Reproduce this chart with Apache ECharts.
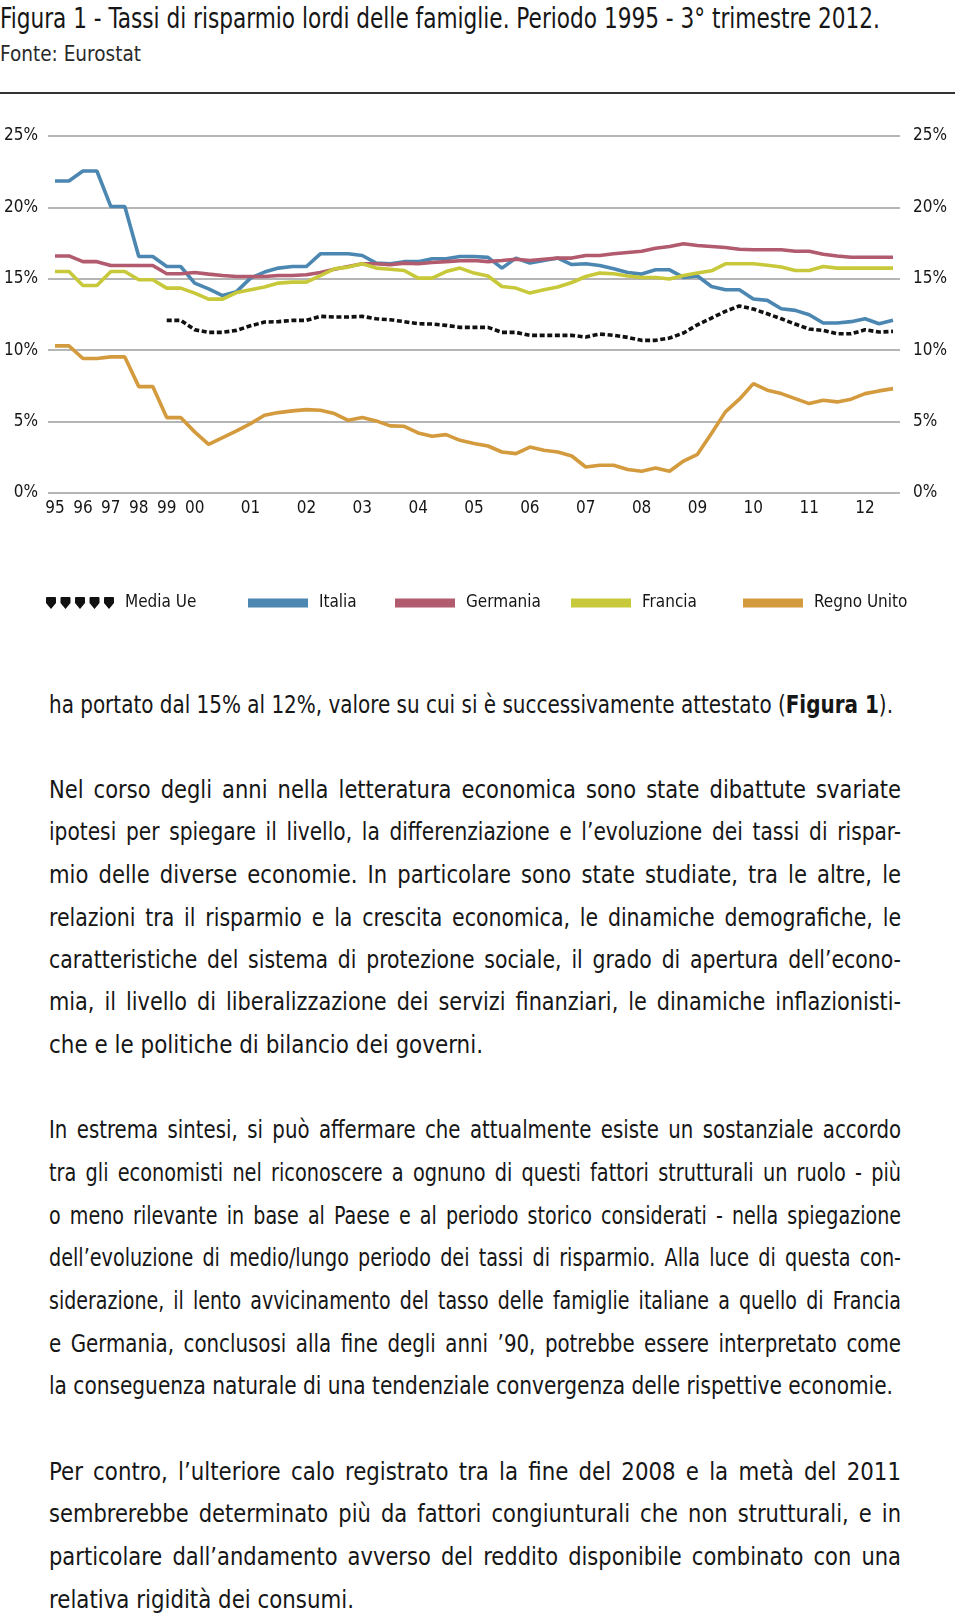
<!DOCTYPE html>
<html>
<head>
<meta charset="utf-8">
<script src="https://cdn.jsdelivr.net/npm/echarts@6/dist/echarts.min.js"></script>
<style>
  html, body { margin:0; padding:0; background:#fff; }
  body { width:960px; height:1619px; position:relative; overflow:hidden;
         font-family:"Liberation Sans Narrow","DejaVu Sans Condensed","Liberation Sans",sans-serif; color:#161616; }
  .ln { position:absolute; left:49px; white-space:nowrap; font-size:24px; line-height:30px; transform-origin:0 50%; }
  #title { position:absolute; left:0; top:3px; font-size:28px; line-height:32px; white-space:nowrap; transform-origin:0 50%; }
  #fonte { position:absolute; left:0; top:41px; font-size:22px; line-height:26px; white-space:nowrap; color:#2a2a2a; transform-origin:0 50%; }
  #rule { position:absolute; left:0; top:92px; width:955px; height:2px; background:#333; }
  #chart { position:absolute; left:0; top:0; width:960px; height:650px; }
</style>
</head>
<body>
<div id="title">Figura 1 - Tassi di risparmio lordi delle famiglie. Periodo 1995 - 3° trimestre 2012.</div>
<div id="fonte">Fonte: Eurostat</div>
<div id="rule"></div>
<div id="chart"></div>
<div id="text"></div>
<script>
// ---- Data ----
const categorie = [
  '95-1','95-2','96-1','96-2','97-1','97-2','98-1','98-2','99-1','99-2',
  '00-1','00-2','00-3','00-4','01-1','01-2','01-3','01-4','02-1','02-2','02-3','02-4',
  '03-1','03-2','03-3','03-4','04-1','04-2','04-3','04-4','05-1','05-2','05-3','05-4',
  '06-1','06-2','06-3','06-4','07-1','07-2','07-3','07-4','08-1','08-2','08-3','08-4',
  '09-1','09-2','09-3','09-4','10-1','10-2','10-3','10-4','11-1','11-2','11-3','11-4',
  '12-1','12-2','12-3'
];
const etichetteAnni = ['95','96','97','98','99','00','01','02','03','04','05','06','07','08','09','10','11','12'];
const etichetteY = ['0%','5%','10%','15%','20%','25%'];

const mediaUe = [null,null,null,null,null,null,null,null,12.09,12.09,
  11.43,11.25,11.25,11.39,11.71,11.97,12.0,12.09,12.09,12.37,
  12.32,12.32,12.37,12.2,12.13,12.0,11.85,11.83,11.74,11.6,
  11.6,11.6,11.25,11.25,11.04,11.04,11.04,11.04,10.92,11.13,
  11.04,10.9,10.69,10.69,10.85,11.2,11.78,12.25,12.72,13.1,
  12.88,12.55,12.2,11.83,11.48,11.39,11.15,11.15,11.43,11.27,11.32];
const italia = [21.85,21.85,22.55,22.55,20.06,20.06,16.56,16.56,15.86,15.86,
  14.7,14.3,13.83,14.1,15.05,15.47,15.75,15.86,15.86,16.75,
  16.75,16.75,16.63,16.1,16.05,16.2,16.2,16.4,16.4,16.56,
  16.56,16.5,15.75,16.45,16.1,16.28,16.45,16.0,16.05,15.93,
  15.7,15.44,15.33,15.63,15.63,15.1,15.2,14.46,14.23,14.23,
  13.58,13.49,12.9,12.79,12.48,11.9,11.9,12.0,12.2,11.85,12.09];
const germania = [16.6,16.6,16.2,16.2,15.93,15.93,15.93,15.93,15.35,15.35,
  15.44,15.33,15.23,15.16,15.16,15.16,15.23,15.23,15.28,15.44,
  15.67,15.86,16.05,16.05,15.98,16.1,16.05,16.14,16.2,16.26,
  16.28,16.2,16.28,16.37,16.28,16.37,16.45,16.45,16.63,16.63,
  16.75,16.84,16.93,17.14,17.26,17.45,17.33,17.26,17.19,17.07,
  17.03,17.03,17.03,16.93,16.93,16.72,16.6,16.51,16.51,16.51,16.51];
const francia = [15.51,15.51,14.53,14.53,15.51,15.51,14.93,14.93,14.35,14.35,
  14.0,13.58,13.58,14.04,14.23,14.42,14.7,14.77,14.77,15.23,
  15.7,15.82,16.05,15.75,15.67,15.58,15.05,15.05,15.51,15.75,
  15.4,15.2,14.46,14.35,14.0,14.23,14.42,14.74,15.16,15.4,
  15.35,15.2,15.09,15.09,14.98,15.23,15.4,15.56,16.05,16.05,
  16.05,15.95,15.82,15.58,15.58,15.86,15.75,15.75,15.75,15.75,15.75];
const regnoUnito = [10.3,10.3,9.42,9.42,9.53,9.53,7.45,7.45,5.28,5.28,
  4.28,3.41,3.88,4.35,4.86,5.44,5.63,5.75,5.84,5.79,
  5.56,5.09,5.28,5.05,4.7,4.67,4.21,3.97,4.09,3.69,
  3.46,3.29,2.87,2.76,3.22,2.99,2.87,2.59,1.82,1.94,
  1.94,1.64,1.52,1.75,1.52,2.24,2.71,4.16,5.68,6.57,
  7.66,7.2,6.96,6.61,6.26,6.5,6.38,6.57,6.96,7.15,7.31];

const nomiSerie = ['Media Ue','Italia','Germania','Francia','Regno Unito'];
const coloriSerie = ['#111111','#4b87b1','#b25a6e','#c8c93a','#d49a3e'];

// ---- Chart ----
const FONT = '"Liberation Sans Narrow","DejaVu Sans Condensed","Liberation Sans",sans-serif';
const chart = echarts.init(document.getElementById('chart'), null, {renderer:'canvas'});
const valori = [mediaUe, italia, germania, francia, regnoUnito];
const shieldIcon = 'path://M1,0H9Q10,0 10,1V6L5,12L0,6V1Q0,0 1,0Z M15.5,0H23.5Q24.5,0 24.5,1V6L19.5,12L14.5,6V1Q14.5,0 15.5,0Z M30,0H38Q39,0 39,1V6L34,12L29,6V1Q29,0 30,0Z M44.5,0H52.5Q53.5,0 53.5,1V6L48.5,12L43.5,6V1Q43.5,0 44.5,0Z M59,0H67Q68,0 68,1V6L63,12L58,6V1Q58,0 59,0Z';
const legendPos = [46, 248, 395, 571, 743];
const legends = nomiSerie.map((n, i) => ({
  data: [{ name: n, icon: i === 0 ? shieldIcon : 'rect' }],
  left: legendPos[i], top: 594, padding: 0,
  itemWidth: i === 0 ? 68 : 60, itemHeight: i === 0 ? 12 : 9,
  selectedMode: false,
  textStyle: { fontFamily: FONT, fontSize: 17, color: '#161616', padding: [0,0,0,6], lineHeight: 18 }
}));

const yAxisBase = {
  type: 'value', min: 0, max: 25, interval: 5,
  axisLine: { show: false }, axisTick: { show: false },
  axisLabel: { fontFamily: FONT, fontSize: 17, color: '#161616',
    formatter: v => etichetteY[Math.round(v / 5)] }
};

chart.setOption({
  animation: false,
  grid: { left: 48, right: 60, top: 136, height: 357, containLabel: false },
  legend: legends,
  xAxis: {
    type: 'category', data: categorie, boundaryGap: true,
    axisLine: { show: false }, axisTick: { show: false },
    axisLabel: { interval: 0, margin: 7, fontFamily: FONT, fontSize: 17, color: '#161616',
      formatter: (v) => v.endsWith('-1') ? etichetteAnni[etichetteAnni.indexOf(v.slice(0,2))] : '' }
  },
  yAxis: [
    Object.assign({}, yAxisBase, { position: 'left',
      axisLabel: Object.assign({}, yAxisBase.axisLabel, { margin: 10 }),
      splitLine: { show: true, lineStyle: { color: '#9c9c9c', width: 1.6 } } }),
    Object.assign({}, yAxisBase, { position: 'right',
      axisLabel: Object.assign({}, yAxisBase.axisLabel, { margin: 13 }),
      splitLine: { show: false } })
  ],
  series: nomiSerie.map((n, i) => ({
    name: n, type: 'line', data: valori[i], symbol: 'none', connectNulls: false,
    color: coloriSerie[i],
    lineStyle: i === 0
      ? { color: coloriSerie[i], width: 3.6, type: [5, 2.6], cap: 'butt' }
      : { color: coloriSerie[i], width: 3.6 },
    z: 2 + i
  }))
});

// ---- Body text ----
const righe = [
  ['ha portato dal 15% al 12%, valore su cui si è successivamente attestato (<b>Figura 1</b>).', 705, 844, false],
  ['Nel corso degli anni nella letteratura economica sono state dibattute svariate', 790, 852, true],
  ['ipotesi per spiegare il livello, la differenziazione e l’evoluzione dei tassi di rispar-', 832, 852, true],
  ['mio delle diverse economie. In particolare sono state studiate, tra le altre, le', 875, 852, true],
  ['relazioni tra il risparmio e la crescita economica, le dinamiche demografiche, le', 918, 852, true],
  ['caratteristiche del sistema di protezione sociale, il grado di apertura dell’econo-', 960, 852, true],
  ['mia, il livello di liberalizzazione dei servizi finanziari, le dinamiche inflazionisti-', 1002, 852, true],
  ['che e le politiche di bilancio dei governi.', 1045, 434, false],
  ['In estrema sintesi, si può affermare che attualmente esiste un sostanziale accordo', 1130, 852, true],
  ['tra gli economisti nel riconoscere a ognuno di questi fattori strutturali un ruolo - più', 1173, 852, true],
  ['o meno rilevante in base al Paese e al periodo storico considerati - nella spiegazione', 1216, 852, true],
  ['dell’evoluzione di medio/lungo periodo dei tassi di risparmio. Alla luce di questa con-', 1258, 852, true],
  ['siderazione, il lento avvicinamento del tasso delle famiglie italiane a quello di Francia', 1301, 852, true],
  ['e Germania, conclusosi alla fine degli anni ’90, potrebbe essere interpretato come', 1344, 852, true],
  ['la conseguenza naturale di una tendenziale convergenza delle rispettive economie.', 1386, 844, false],
  ['Per contro, l’ulteriore calo registrato tra la fine del 2008 e la metà del 2011', 1472, 852, true],
  ['sembrerebbe determinato più da fattori congiunturali che non strutturali, e in', 1514, 852, true],
  ['particolare dall’andamento avverso del reddito disponibile combinato con una', 1557, 852, true],
  ['relativa rigidità dei consumi.', 1600, 305, false]
];
const EXTRA_SPACE = 3.5; // preferred extra word spacing on justified lines
const cont = document.getElementById('text');
righe.forEach(r => {
  const d = document.createElement('div');
  d.className = 'ln';
  d.innerHTML = r[0];
  d.style.top = (r[1] - 15) + 'px';
  cont.appendChild(d);
  const w = d.getBoundingClientRect().width;
  const spaces = (d.textContent.match(/ /g) || []).length;
  if (r[3]) {
    let s = Math.min(1, r[2] / (w + EXTRA_SPACE * spaces));
    d.style.wordSpacing = ((r[2] / s - w) / spaces) + 'px';
    d.style.transform = 'scaleX(' + s + ')';
  } else {
    d.style.transform = 'scaleX(' + (r[2] / w) + ')';
  }
});
function fit(id, target) {
  const el = document.getElementById(id);
  el.style.display = 'inline-block';
  const w = el.getBoundingClientRect().width;
  el.style.transform = 'scaleX(' + (target / w) + ')';
}
fit('title', 880);
fit('fonte', 141);
</script>
</body>
</html>
